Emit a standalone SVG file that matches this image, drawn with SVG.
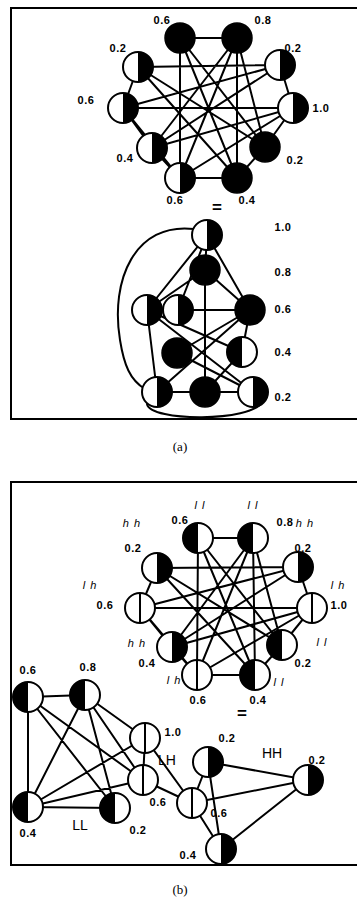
<svg xmlns="http://www.w3.org/2000/svg" width="357" height="908" viewBox="0 0 357 908">
<style>
.e{stroke:#000;stroke-width:2;fill:none;stroke-linecap:round}
.box{stroke:#000;stroke-width:2;fill:none}
.v{font-family:"Liberation Sans",Arial,sans-serif;font-size:11px;font-weight:bold;text-anchor:middle;letter-spacing:0.5px}
.t{font-family:"Liberation Sans",Arial,sans-serif;font-size:11px;font-style:italic;text-anchor:middle;letter-spacing:1px}
.g{font-family:"Liberation Sans",Arial,sans-serif;font-size:14px;text-anchor:middle}
.cap{font-family:"Liberation Serif","Times New Roman",serif;font-size:13px;text-anchor:middle}
.eq{font-family:"Liberation Sans",Arial,sans-serif;font-size:17px;font-weight:bold;text-anchor:middle}
</style>
<defs>
<g id="blk"><circle r="15" fill="#000" stroke="#000" stroke-width="1.5"/></g>
<g id="wb"><circle r="15" fill="#fff" stroke="#000" stroke-width="2"/><path d="M0,-15 A15,15 0 0 1 0,15 Z" fill="#000"/></g>
<g id="bw"><circle r="15" fill="#fff" stroke="#000" stroke-width="2"/><path d="M0,-15 A15,15 0 0 0 0,15 Z" fill="#000"/></g>
<g id="ww"><circle r="15" fill="#fff" stroke="#000" stroke-width="2"/><line x1="0" y1="-15" x2="0" y2="15" stroke="#000" stroke-width="2"/></g>
</defs>
<rect width="357" height="908" fill="#fff"/>
<path class="box" d="M362,8 H11 V419 H362"/>
<path class="box" d="M362,482 H11 V865 H362"/>
<text class="cap" x="180" y="451">(a)</text>
<text class="cap" x="180" y="894">(b)</text>

<g id="connectors">
<!-- panel a top -->
<path class="e" d="M180,38L237,38 M138,67L280,65 M123,108L293,108 M180,178L237,178 M180,38L180,178 M237,38L237,178 M138,67L123,108 M123,108L152,148 M152,148L180,178 M280,65L293,108 M293,108L265,147 M265,147L237,178 M180,38L237,178 M180,38L265,147 M237,38L180,178 M237,38L152,148 M138,67L265,147 M280,65L123,108 M280,65L152,148 M293,108L152,148 M293,108L180,178 M138,67L237,178 M237,38L265,147 M123,108L180,178"/>
<!-- panel a bottom -->
<path class="e" d="M207,235L205,270 M207,235L147,310 M207,235L178,310 M207,235L250,310 M205,270L205,392 M205,270L147,310 M205,270L250,310 M147,310L250,310 M147,310L157,392 M147,310L242,352 M147,310L253,392 M250,310L177,353 M250,310L157,392 M250,310L242,352 M157,392L253,392 M177,353L253,392 M242,352L205,392"/>
<path class="e" d="M194,229 C135,222 110,280 120,340 C124,365 130,380 145,389"/>
<path class="e" d="M147,404 C150,422 252,422 262,402"/>
<!-- panel b top -->
<path class="e" d="M198,538L253,538 M157,568L298,567 M140,608L312,608 M197,675L255,675 M198,538L197,675 M253,538L255,675 M157,568L140,608 M140,608L172,647 M172,647L197,675 M298,567L312,608 M312,608L282,645 M282,645L255,675 M198,538L255,675 M198,538L282,645 M253,538L197,675 M253,538L172,647 M157,568L282,645 M298,567L140,608 M298,567L172,647 M312,608L172,647 M312,608L197,675 M157,568L255,675 M253,538L282,645 M140,608L197,675"/>
<!-- panel b lower left -->
<path class="e" d="M28,697L85,695 M28,697L28,807 M28,697L115,808 M28,697L143,780 M85,695L28,807 M85,695L115,808 M85,695L145,738 M85,695L143,780 M28,807L115,808 M28,807L145,738 M28,807L143,780 M145,738L143,780 M145,738L192,803 M143,780L192,803"/>
<!-- panel b lower right -->
<path class="e" d="M208,762L308,780 M192,803L308,780 M221,849L308,780 M208,762L192,803 M208,762L221,849 M192,803L221,849"/>
</g>

<!-- panel a top nodes -->
<g id="a-top-1"><use href="#blk" x="180" y="38"/><text class="v" x="162" y="24">0.6</text></g>
<g id="a-top-2"><use href="#blk" x="237" y="38"/><text class="v" x="263" y="24">0.8</text></g>
<g id="a-top-3"><use href="#wb" x="138" y="67"/><text class="v" x="118" y="52">0.2</text></g>
<g id="a-top-4"><use href="#wb" x="280" y="65"/><text class="v" x="293" y="52">0.2</text></g>
<g id="a-top-5"><use href="#wb" x="123" y="108"/><text class="v" x="86" y="104">0.6</text></g>
<g id="a-top-6"><use href="#wb" x="293" y="108"/><text class="v" x="321" y="112">1.0</text></g>
<g id="a-top-7"><use href="#wb" x="152" y="148"/><text class="v" x="125" y="162">0.4</text></g>
<g id="a-top-8"><use href="#blk" x="265" y="147"/><text class="v" x="295" y="164">0.2</text></g>
<g id="a-top-9"><use href="#wb" x="180" y="178"/><text class="v" x="175" y="204">0.6</text></g>
<g id="a-top-10"><use href="#blk" x="237" y="178"/><text class="v" x="247" y="204">0.4</text></g>
<text class="eq" x="217" y="213">=</text>

<!-- panel a bottom nodes -->
<g id="a-bot-1"><use href="#wb" x="207" y="235"/><text class="v" x="283" y="231">1.0</text></g>
<g id="a-bot-2"><use href="#blk" x="205" y="270"/><text class="v" x="283" y="276">0.8</text></g>
<g id="a-bot-3"><use href="#wb" x="147" y="310"/></g>
<g id="a-bot-4"><use href="#wb" x="178" y="310"/><text class="v" x="283" y="313">0.6</text></g>
<g id="a-bot-5"><use href="#blk" x="250" y="310"/></g>
<g id="a-bot-6"><use href="#blk" x="177" y="353"/></g>
<g id="a-bot-7"><use href="#bw" x="242" y="352"/><text class="v" x="283" y="356">0.4</text></g>
<g id="a-bot-8"><use href="#wb" x="157" y="392"/></g>
<g id="a-bot-9"><use href="#blk" x="205" y="392"/></g>
<g id="a-bot-10"><use href="#wb" x="253" y="392"/><text class="v" x="283" y="401">0.2</text></g>

<!-- panel b top nodes -->
<g id="b-top-1"><use href="#bw" x="198" y="538"/><text class="v" x="180" y="524">0.6</text><text class="t" x="200" y="509">l l</text></g>
<g id="b-top-2"><use href="#bw" x="253" y="538"/><text class="v" x="285" y="526">0.8</text><text class="t" x="253" y="509">l l</text></g>
<g id="b-top-3"><use href="#wb" x="157" y="568"/><text class="v" x="133" y="552">0.2</text><text class="t" x="132" y="527">h h</text></g>
<g id="b-top-4"><use href="#wb" x="298" y="567"/><text class="v" x="303" y="552">0.2</text><text class="t" x="305" y="527">h h</text></g>
<g id="b-top-5"><use href="#ww" x="140" y="608"/><text class="v" x="105" y="609">0.6</text><text class="t" x="90" y="589">l h</text></g>
<g id="b-top-6"><use href="#ww" x="312" y="608"/><text class="v" x="339" y="609">1.0</text><text class="t" x="338" y="589">l h</text></g>
<g id="b-top-7"><use href="#wb" x="172" y="647"/><text class="v" x="147" y="667">0.4</text><text class="t" x="137" y="647">h h</text></g>
<g id="b-top-8"><use href="#bw" x="282" y="645"/><text class="v" x="303" y="667">0.2</text><text class="t" x="322" y="646">l l</text></g>
<g id="b-top-9"><use href="#ww" x="197" y="675"/><text class="v" x="198" y="704">0.6</text><text class="t" x="174" y="684">l h</text></g>
<g id="b-top-10"><use href="#bw" x="255" y="675"/><text class="v" x="258" y="704">0.4</text><text class="t" x="279" y="686">l l</text></g>
<text class="eq" x="242" y="719">=</text>

<!-- panel b lower left (LL, LH) -->
<g id="b-ll-1"><use href="#bw" x="28" y="697"/><text class="v" x="28" y="674">0.6</text></g>
<g id="b-ll-2"><use href="#bw" x="85" y="695"/><text class="v" x="88" y="671">0.8</text></g>
<g id="b-ll-3"><use href="#bw" x="28" y="807"/><text class="v" x="28" y="837">0.4</text></g>
<g id="b-ll-4"><use href="#bw" x="115" y="808"/><text class="v" x="138" y="834">0.2</text></g>
<text class="g" x="80" y="830">LL</text>
<g id="b-lh-1"><use href="#ww" x="145" y="738"/><text class="v" x="173" y="736">1.0</text></g>
<g id="b-lh-2"><use href="#ww" x="143" y="780"/><text class="v" x="158" y="806">0.6</text></g>
<text class="g" x="167" y="765">LH</text>

<!-- panel b lower right (HH) -->
<g id="b-hh-1"><use href="#wb" x="208" y="762"/><text class="v" x="227" y="742">0.2</text></g>
<g id="b-hh-2"><use href="#wb" x="308" y="780"/><text class="v" x="317" y="764">0.2</text></g>
<g id="b-hh-3"><use href="#ww" x="192" y="803"/><text class="v" x="219" y="817">0.6</text></g>
<g id="b-hh-4"><use href="#wb" x="221" y="849"/><text class="v" x="188" y="859">0.4</text></g>
<text class="g" x="272" y="758">HH</text>
</svg>
